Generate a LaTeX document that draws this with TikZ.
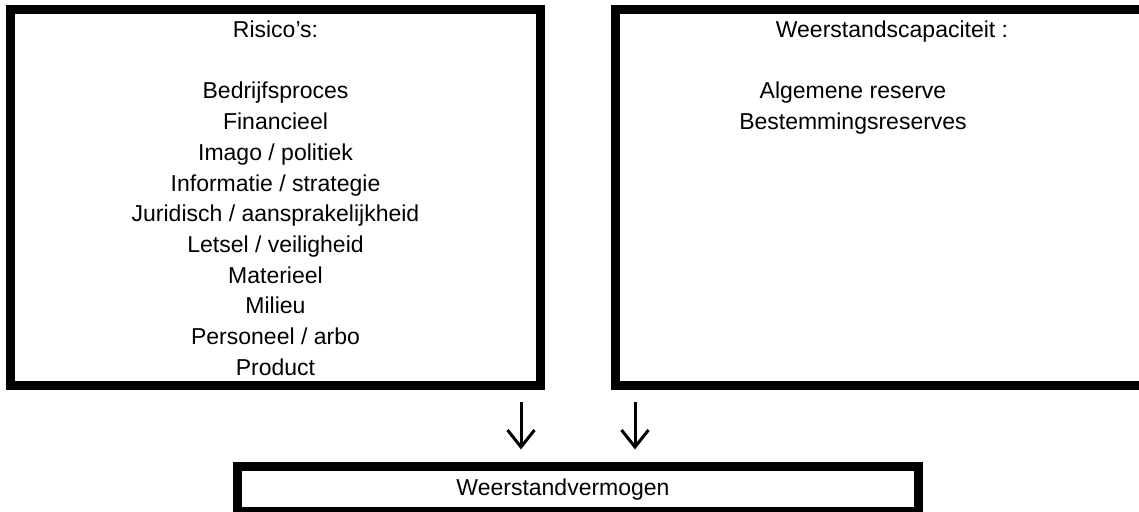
\documentclass[tikz,border=0pt]{standalone}
\usepackage{fontspec}
\setmainfont{Liberation Sans}
\begin{document}
\begin{tikzpicture}[x=1pt,y=-1pt,
  frame/.style={draw=black,line width=9pt,line join=miter},
  txt/.style={inner sep=0pt,align=center,font=\fontsize{23}{30.7}\selectfont},
  darrow/.style={line width=3pt}]
\useasboundingbox (0,0) rectangle (1139,511);
\clip (0,0) rectangle (1139,511);
% boxes
\draw[frame] (10.5,9.5) rectangle (540.5,385.5);
\draw[frame] (615.5,9.5) rectangle (1155,385.5);
\draw[frame] (237.5,466.5) rectangle (918.5,511.5);
% texts
\node[txt,anchor=base] (risk) at (275.5,375.2) {Risico’s:\\ \\ Bedrijfsproces\\ Financieel\\ Imago / politiek\\ Informatie / strategie\\ Juridisch / aansprakelijkheid\\ Letsel / veiligheid\\ Materieel\\ Milieu\\ Personeel / arbo\\ Product};
\node[txt,anchor=base] (caphead) at (892,37.5) {Weerstandscapaciteit :};
\node[txt,anchor=base] (cap) at (853,129.6) {Algemene reserve\\ Bestemmingsreserves};
\node[txt,anchor=base] (verm) at (563,495.5) {Weerstandvermogen};
% arrows
\coordinate (a1t) at (521,402);
\coordinate (a1b) at (521,447);
\coordinate (a2t) at (635,402);
\coordinate (a2b) at (635,447);
\draw[darrow] (a1t) -- (a1b);
\draw[darrow,line join=miter] ([xshift=-13.5pt,yshift=17pt]a1b) -- (a1b) -- ([xshift=13.5pt,yshift=17pt]a1b);
\draw[darrow] (a2t) -- (a2b);
\draw[darrow,line join=miter] ([xshift=-13.5pt,yshift=17pt]a2b) -- (a2b) -- ([xshift=13.5pt,yshift=17pt]a2b);
\end{tikzpicture}
\end{document}
